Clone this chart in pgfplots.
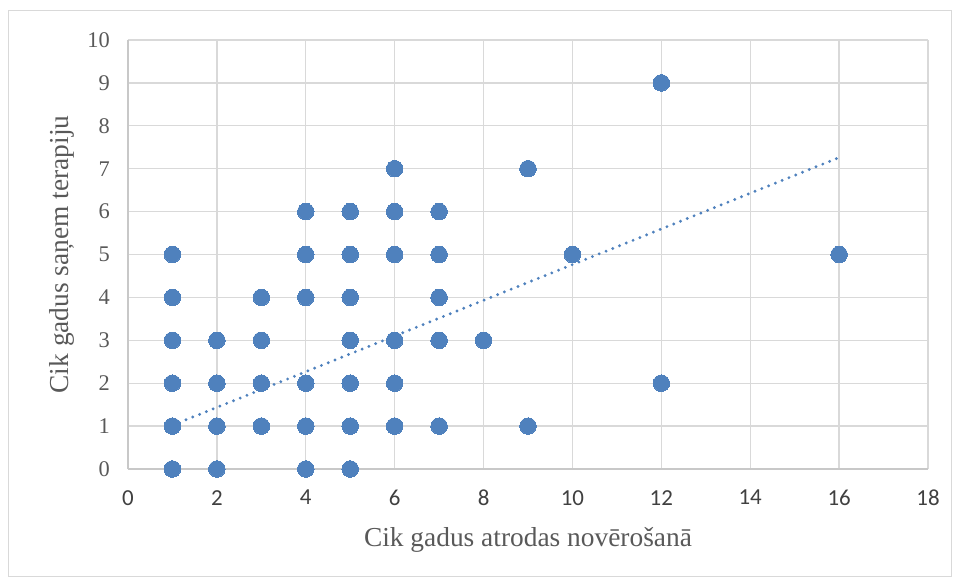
\documentclass[border=0pt]{standalone}
\usepackage{fontspec}
\setmainfont{Liberation Serif}
\newfontfamily\tickfont{Carlito}
\usepackage{pgfplots}
\usepackage{pgfplotstable}
\pgfplotsset{compat=1.18}
\definecolor{ptblue}{RGB}{79,129,189}
\definecolor{gridgray}{RGB}{217,217,217}
\definecolor{axgray}{RGB}{200,200,200}
\definecolor{txtgray}{RGB}{89,89,89}
\definecolor{ticktxt}{RGB}{64,64,64}

\pgfplotstableread{
x y
1 0
1 1
1 2
1 3
1 4
1 5
2 0
2 1
2 2
2 3
3 1
3 2
3 3
3 4
4 0
4 1
4 2
4 4
4 5
4 6
5 0
5 1
5 2
5 3
5 4
5 5
5 6
6 1
6 2
6 3
6 5
6 6
6 7
7 1
7 3
7 4
7 5
7 6
8 3
9 1
9 7
10 5
12 2
12 9
16 5
}\pts

\pgfplotstableread{
x y
1 1.02
16 7.26
}\trend

\begin{document}
\begin{tikzpicture}
\useasboundingbox (-128bp,-108bp) rectangle (825bp,469bp);
\draw[gridgray, line width=1bp] (-119bp,-107bp) rectangle (823bp,458bp);
\begin{axis}[
  at={(0,0)}, anchor=south west,
  scale only axis, width=800bp, height=429bp,
  xmin=0, xmax=18, ymin=0, ymax=10,
  xtick={0,2,...,18}, ytick={0,1,...,10},
  grid=major,
  major grid style={gridgray, line width=1.3bp},
  axis x line*=bottom, axis y line*=left,
  axis line style={axgray, line width=1.3bp, -},
  tick style={draw=none},
  major tick length=0pt,
  xticklabel style={font=\tickfont\fontsize{23}{23}\selectfont, text=ticktxt, inner sep=0pt, anchor=north, yshift=-21bp},
  yticklabel style={font=\fontsize{22.5}{22.5}\selectfont, text=txtgray, inner sep=0pt, anchor=east, xshift=-18bp},
  /pgf/number format/assume math mode=true,
  xlabel={Cik gadus atrodas novērošanā},
  ylabel={Cik gadus saņem terapiju},
  xlabel style={font=\fontsize{27.5}{27.5}\selectfont, text=txtgray, at={(axis description cs:0.5,-0.1818)}, anchor=base},
  ylabel style={font=\fontsize{27.5}{27.5}\selectfont, text=txtgray, at={(axis description cs:-0.0825,0.5)}, anchor=center},
  clip=false,
]
\addplot[only marks, mark=*, mark size=8.3bp, mark options={fill=ptblue, draw=ptblue, line width=0pt}] table[x=x,y=y] {\pts};
\addplot[ptblue, line width=3.2bp, line cap=round, dash pattern=on 0pt off 7.3bp] table[x=x,y=y] {\trend};
\end{axis}
\end{tikzpicture}
\end{document}
